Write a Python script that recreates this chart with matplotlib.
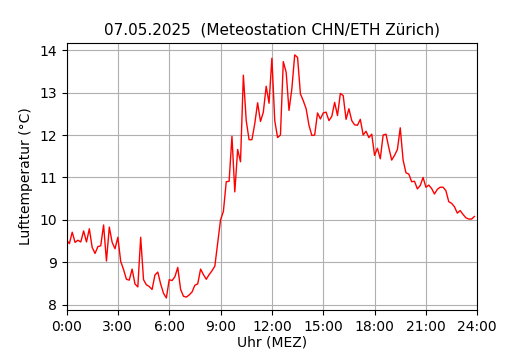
import matplotlib
matplotlib.use("Agg")
import matplotlib.pyplot as plt
import numpy as np

# 10-Minuten-Werte, 0:00 bis 23:50
temperatur = [
    9.53, 9.44, 9.71, 9.47, 9.52, 9.48, 9.74, 9.48, 9.79, 9.35, 9.21, 9.37,
    9.39, 9.88, 9.03, 9.83, 9.47, 9.32, 9.59, 9.02, 8.83, 8.60, 8.58, 8.84,
    8.49, 8.42, 9.59, 8.59, 8.47, 8.43, 8.36, 8.70, 8.77, 8.49, 8.27, 8.16,
    8.59, 8.57, 8.66, 8.88, 8.36, 8.20, 8.18, 8.23, 8.30, 8.46, 8.49, 8.84,
    8.71, 8.60, 8.71, 8.80, 8.91, 9.45, 10.00, 10.20, 10.90, 10.91, 11.97, 10.66,
    11.66, 11.37, 13.41, 12.34, 11.89, 11.89, 12.27, 12.76, 12.32, 12.54, 13.15, 12.75,
    13.81, 12.34, 11.94, 12.00, 13.73, 13.48, 12.58, 13.09, 13.89, 13.83, 12.97, 12.81,
    12.62, 12.23, 11.99, 12.00, 12.52, 12.38, 12.52, 12.54, 12.34, 12.44, 12.77, 12.46,
    12.98, 12.93, 12.37, 12.62, 12.34, 12.24, 12.23, 12.37, 12.00, 12.09, 11.94, 12.02,
    11.52, 11.69, 11.44, 12.00, 12.02, 11.70, 11.41, 11.52, 11.66, 12.17, 11.41, 11.11,
    11.08, 10.90, 10.91, 10.73, 10.81, 11.00, 10.77, 10.82, 10.74, 10.61, 10.72, 10.77,
    10.77, 10.69, 10.43, 10.39, 10.31, 10.16, 10.22, 10.13, 10.05, 10.02, 10.02, 10.08,
]
stunden = np.arange(len(temperatur)) / 6.0

tick_pos = [0, 3, 6, 9, 12, 15, 18, 21, 24]
tick_labels = ["0:00", "3:00", "6:00", "9:00", "12:00", "15:00", "18:00", "21:00", "24:00"]

fig = plt.figure(figsize=(5.3, 3.5), dpi=100)
ax = fig.add_axes([0.1255, 0.114, 0.775, 0.764])

ax.plot(stunden, temperatur, color="red", linewidth=1)
ax.set_xlim(0, 24)
ax.set_xticks(tick_pos)
ax.set_xticklabels(tick_labels)
ax.set_yticks([8, 9, 10, 11, 12, 13, 14])
ax.grid(True)
ax.set_xlabel("Uhr (MEZ)", labelpad=1)
ax.set_ylabel("Lufttemperatur (°C)")
ax.set_title("07.05.2025  (Meteostation CHN/ETH Zürich)", fontsize=11)

fig.savefig("out.png", dpi=100)
